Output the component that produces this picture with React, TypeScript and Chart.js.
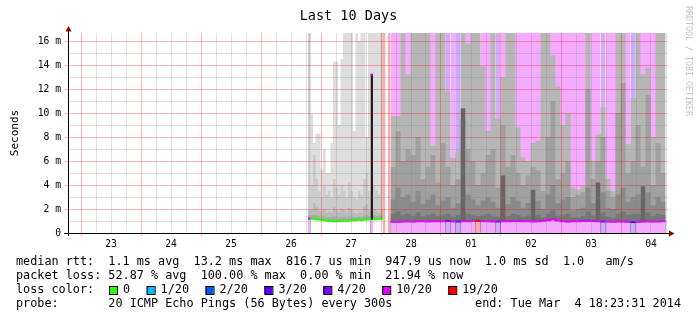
import { useEffect, useRef } from 'react';
import { Chart, registerables } from 'chart.js';

Chart.register(...registerables);

// ---------- axes (x in hours relative to Feb 23 00:00, y in ms) ----------
const X_MIN = -5.2;
const X_MAX = 234.8;
const X_GRID_STEP = 6;
const DAY_LABELS = ['23', '24', '25', '26', '27', '28', '01', '02', '03', '04'];
const Y_MAX = 16.667;
const Y_TICKS = [0, 1, 2, 3, 4, 5, 6, 7, 8, 9, 10, 11, 12, 13, 14, 15, 16];
const Y_LABELS = ['0', '', '2 m', '', '4 m', '', '6 m', '', '8 m', '', '10 m', '', '12 m', '', '14 m', '', '16 m'];
const FULL = 17; // beyond the top of the graph

// ---------- loss colours ----------
const LOSS_LEVELS = [0, 1, 2, 3, 4, 10, 19];
const LOSS_LABELS = ['0', '1/20', '2/20', '3/20', '4/20', '10/20', '19/20'];
const LOSS_COLORS = ['#26ff00', '#00b8ff', '#0059ff', '#5e00ff', '#7e00ff', '#dd00ff', '#ff0000'];
const LOSS_BG = ['#ffffff', '#aae9ff', '#aac8ff', '#c9aaff', '#d4aaff', '#f4aaff', '#ffaaaa'];

// ---------- segment A: Feb 26 evening -> Feb 28 (1 h steps) ----------
const A_START = 90.8;
const A_STEP = 1;
const SMOKE_A1 = [17, 9.9, 7.5, 8.3, 8.3, 5.3, 7.0, 5.0, 5.0, 7.5, 14.3, 14.3, 9.0, 14.5, 17, 17, 17, 17, 8.5, 17, 16.0, 17, 17, 8.0, 17, 17, 17, 17, 17, 17, null, null, null];
const SMOKE_A2 = [17, 4.0, 6.5, 4.5, 3.5, 3.0, 4.0, 3.2, 3.5, 3.0, 4.5, 3.8, 3.2, 4.0, 3.5, 3.0, 4.2, 3.5, 3.0, 2.8, 3.5, 3.2, 4.5, 5.0, 3.5, 3.8, 4.0, 3.5, 3.2, 17, null, null, null];
const SMOKE_A3 = [2.0, 2.0, 2.5, 2.2, 1.9, 1.8, 2.0, 1.7, 1.8, 1.7, 2.2, 1.9, 1.8, 2.0, 1.9, 1.7, 2.1, 1.9, 1.7, 1.6, 1.8, 1.7, 2.2, 2.4, 1.9, 2.0, 2.0, 1.8, 1.7, 2.0, null, null, null];
const SMOKE_A4 = [1.5, 1.45, 1.5, 1.45, 1.4, 1.35, 1.4, 1.3, 1.3, 1.3, 1.4, 1.35, 1.3, 1.35, 1.35, 1.3, 1.4, 1.35, 1.3, 1.3, 1.35, 1.35, 1.45, 1.5, 1.4, 1.4, 1.45, 1.4, 1.4, 1.45, null, null, null];
const MEDIAN_A = [1.2, 1.2, 1.18, 1.15, 1.12, 1.1, 1.08, 1.05, 1.02, 1.0, 0.98, 0.98, 1.0, 1.02, 1.05, 1.02, 1.05, 1.08, 1.06, 1.08, 1.1, 1.08, 1.12, 1.12, 1.15, 13.2, 1.15, 1.18, 1.18, 1.2, null, null, null];
const MIN_A = [1.14, 1.14, 1.12, 1.09, 1.06, 1.04, 1.02, 0.99, 0.96, 0.94, 0.92, 0.92, 0.94, 0.96, 0.99, 0.96, 0.99, 1.02, 1.0, 1.02, 1.04, 1.02, 1.06, 1.06, 1.09, 1.1, 1.09, 1.12, 1.12, 1.14, null, null, null];
const LOSS_A = [10, 0, 0, 0, 0, 0, 0, 0, 0, 0, 0, 0, 0, 0, 0, 0, 0, 0, 0, 0, 0, 0, 0, 0, 0, 10, 0, 0, 0, 0, 19, null, 19];

// ---------- segment B: Feb 28 -> Mar 4 (2 h steps) ----------
const B_START = 123.8;
const B_STEP = 2;
const SMOKE_B1 = [
  9.75, 9.75, 17, 13.2, 17, 17, 17, 17, 7.3, 17, 17,
  11.8, 6.25, 6.8, 17, 15.8, 17, 17, 13.9, 8.5, 17, 9.5,
  13.0, 17, 17, 8.8, 6.3, 6.0, 7.5, 7.7, 17, 17, 14.8,
  12.2, 9.0, 10.0, 3.8, 3.6, 3.9, 17, 6.0, 8.2, 10.5, 4.5,
  3.5, 17, 17, 7.4, 11.25, 17, 13.2, 13.75, 8.0, 17, 17,
];
const SMOKE_B2 = [
  5.5, 8.5, 6.0, 7.0, 6.5, 8.0, 4.5, 5.5, 6.5, 4.2, 7.5,
  5.5, 4.0, 4.5, 9.5, 7.0, 6.0, 4.0, 5.0, 6.5, 7.0, 3.8,
  9.0, 5.5, 6.5, 5.0, 4.0, 4.8, 5.5, 5.2, 3.5, 8.0, 11.0,
  4.5, 5.0, 6.0, 3.0, 3.2, 3.4, 12.0, 4.5, 6.0, 8.0, 3.5,
  3.0, 10.0, 12.5, 5.0, 6.0, 9.0, 5.5, 11.5, 4.0, 7.5, 5.0,
];
const SMOKE_B3 = [
  2.8, 3.8, 3.0, 3.2, 2.6, 3.5, 2.4, 2.8, 3.2, 2.3, 2.7,
  3.0, 2.1, 2.5, 3.8, 3.2, 2.8, 2.3, 2.7, 3.0, 2.6, 2.1,
  3.4, 2.4, 3.0, 2.7, 2.1, 2.5, 2.8, 2.7, 2.0, 3.2, 4.0,
  2.5, 2.8, 3.0, 1.9, 2.0, 2.1, 3.8, 2.5, 2.8, 3.4, 2.1,
  2.0, 3.2, 3.8, 2.6, 3.0, 3.2, 2.8, 3.4, 2.3, 3.0, 2.6,
];
const SMOKE_B4 = [
  1.6, 1.8, 1.5, 1.6, 1.45, 1.7, 1.4, 1.5, 1.6, 1.4, 1.5,
  1.6, 1.35, 1.5, 1.8, 1.6, 1.5, 1.4, 1.5, 1.6, 1.45, 1.35,
  1.7, 1.4, 1.6, 1.5, 1.35, 1.45, 1.5, 1.5, 1.3, 1.6, 1.9,
  1.45, 1.5, 1.6, 1.3, 1.3, 1.4, 1.8, 1.45, 1.5, 1.7, 1.35,
  1.3, 1.6, 1.8, 1.5, 1.6, 1.6, 1.5, 1.7, 1.4, 1.6, 1.5,
];
const SMOKE_B_DARK = [
  null, null, null, null, null, null, null, null, null, null, null,
  null, null, null, 10.4, null, null, null, null, null, null, null,
  4.8, null, null, null, null, null, 3.6, null, null, null, null,
  null, null, null, null, null, null, null, null, 4.2, null, null,
  null, null, null, null, null, null, 3.9, null, null, null, null,
];
const MEDIAN_B = [
  0.93, 0.93, 0.95, 0.96, 0.95, 0.97, 0.98, 0.96, 0.97, 0.98, 0.97,
  0.99, 0.96, 0.95, 0.97, 0.98, 0.99, 1.0, 0.98, 0.97, 0.96, 0.95,
  0.97, 0.98, 0.99, 1.0, 0.98, 0.97, 0.96, 0.98, 1.02, 1.06, 1.15,
  1.05, 0.97, 0.95, 0.97, 0.98, 1.0, 1.02, 1.0, 0.98, 0.96, 0.95,
  0.94, 0.96, 0.95, 0.94, 0.92, 0.93, 0.95, 0.96, 0.95, 0.96, 0.97,
];
const MIN_B = [
  0.88, 0.88, 0.9, 0.91, 0.9, 0.92, 0.93, 0.91, 0.92, 0.93, 0.92,
  0.94, 0.91, 0.9, 0.92, 0.93, 0.94, 0.95, 0.93, 0.92, 0.91, 0.9,
  0.92, 0.93, 0.94, 0.95, 0.93, 0.92, 0.91, 0.93, 0.97, 1.01, 1.1,
  1.0, 0.92, 0.9, 0.92, 0.93, 0.95, 0.97, 0.95, 0.93, 0.91, 0.9,
  0.89, 0.91, 0.9, 0.89, 0.87, 0.88, 0.9, 0.91, 0.9, 0.91, 0.92,
];
const LOSS_B = [
  10, 10, 10, 10, 10, 10, 10, 10, 10, 10, 10,
  4, 10, 3, 10, 10, 10, 19, 10, 10, 10, 4,
  10, 10, 10, 10, 10, 10, 10, 10, 10, 10, 10,
  10, 10, 10, 10, 10, 10, 10, 10, 10, 4, 10,
  10, 10, 10, 10, 3, 10, 10, 10, 10, 10, 10,
];

// ---------- legend texts ----------
const TITLE = 'Last 10 Days';
const Y_TITLE = 'Seconds';
const RTT_STATS = ['1.1 ms avg', '13.2 ms max', '816.7 us min', '947.9 us now', '1.0 ms sd', '1.0   am/s'];
const LOSS_STATS = ['52.87 % avg', '100.00 % max', '0.00 % min', '21.94 % now'];
const PROBE_TEXT = '20 ICMP Echo Pings (56 Bytes) every 300s';
const END_TEXT = 'end: Tue Mar  4 18:23:31 2014';
const WATERMARK = 'RRDTOOL / TOBI OETIKER';

const MONO = '"DejaVu Sans Mono", monospace';
const MGRID = 'rgba(255,0,0,0.28)';
const GRID = 'rgba(130,130,130,0.24)';

const idx = (l: number) => LOSS_LEVELS.indexOf(l);

function steps(start: number, step: number, values: (number | null)[]) {
  const pts: { x: number; y: number | null; k: number }[] = [];
  values.forEach((v, k) => {
    const x0 = start + k * step;
    if (v == null) {
      pts.push({ x: x0, y: null, k });
      return;
    }
    pts.push({ x: x0, y: v, k }, { x: x0 + step, y: v, k });
  });
  return pts;
}

function stepIndex(ctx: any) {
  const ds = ctx.chart.data.datasets[ctx.datasetIndex];
  return ds.data[ctx.p0DataIndex].k as number;
}

function area(label: string, data: any[], color: string, order: number, extra: any = {}) {
  return {
    label,
    data,
    fill: 'origin',
    backgroundColor: color,
    borderColor: 'rgba(0,0,0,0)',
    borderWidth: 0,
    pointRadius: 0,
    spanGaps: false,
    order,
    ...extra,
  };
}

function lossBgSegment(loss: (number | null)[]) {
  return {
    backgroundColor: (ctx: any) => {
      const l = loss[stepIndex(ctx)];
      return l == null ? 'rgba(0,0,0,0)' : LOSS_BG[idx(l)];
    },
  };
}

function medianLine(label: string, data: any[], loss: (number | null)[], order: number) {
  return {
    label,
    data,
    fill: false,
    borderWidth: 2,
    borderColor: LOSS_COLORS[0],
    borderJoinStyle: 'miter',
    borderCapStyle: 'butt',
    pointRadius: 0,
    spanGaps: false,
    order,
    segment: {
      borderColor: (ctx: any) => {
        const ds = ctx.chart.data.datasets[ctx.datasetIndex];
        const a = ds.data[ctx.p0DataIndex];
        const b = ds.data[ctx.p1DataIndex];
        if (Math.abs(b.y - a.y) > 3) return 'rgba(0,0,0,0)';
        const l = loss[a.k];
        return l == null ? 'rgba(0,0,0,0)' : LOSS_COLORS[idx(l)];
      },
    },
  };
}

const decor = {
  id: 'rrdDecor',
  afterDraw(chart: any) {
    const { ctx, chartArea: a } = chart;
    ctx.save();
    // axes
    ctx.strokeStyle = '#000';
    ctx.lineWidth = 1;
    ctx.beginPath();
    ctx.moveTo(a.left - 4, a.bottom + 0.5);
    ctx.lineTo(a.right + 2, a.bottom + 0.5);
    ctx.moveTo(a.left + 0.5, a.bottom + 3);
    ctx.lineTo(a.left + 0.5, a.top - 2);
    ctx.stroke();
    ctx.fillStyle = '#8b0000';
    ctx.beginPath();
    ctx.moveTo(a.left + 0.5, a.top - 7);
    ctx.lineTo(a.left - 2.5, a.top - 1.5);
    ctx.lineTo(a.left + 3.5, a.top - 1.5);
    ctx.closePath();
    ctx.fill();
    ctx.beginPath();
    ctx.moveTo(a.right + 6.5, a.bottom + 0.5);
    ctx.lineTo(a.right + 1, a.bottom - 2.5);
    ctx.lineTo(a.right + 1, a.bottom + 3.5);
    ctx.closePath();
    ctx.fill();

    // title
    ctx.fillStyle = '#000';
    ctx.font = `13.5px ${MONO}`;
    ctx.textAlign = 'center';
    ctx.textBaseline = 'alphabetic';
    ctx.fillText(TITLE, chart.width / 2, 20);

    // watermark
    ctx.save();
    ctx.translate(688, 6);
    ctx.rotate(Math.PI / 2);
    ctx.font = `8.3px ${MONO}`;
    ctx.fillStyle = '#c4c4c4';
    ctx.textAlign = 'left';
    ctx.textBaseline = 'middle';
    ctx.fillText(WATERMARK, 0, 0);
    ctx.restore();

    // legend
    ctx.font = `11.8px ${MONO}`;
    ctx.fillStyle = '#000';
    ctx.textAlign = 'left';
    ctx.textBaseline = 'alphabetic';
    const x0 = 16;
    ctx.fillText('median rtt:  ' + RTT_STATS.join('  '), x0, 265);
    ctx.fillText('packet loss: ' + LOSS_STATS.join('  '), x0, 279);
    ctx.fillText('loss color:', x0, 293);
    let x = 109;
    LOSS_LABELS.forEach((lab, i) => {
      ctx.fillStyle = LOSS_COLORS[i];
      ctx.fillRect(x, 286, 8, 8);
      ctx.strokeStyle = '#000';
      ctx.strokeRect(x + 0.5, 286.5, 8, 8);
      ctx.fillStyle = '#000';
      ctx.fillText(lab, x + 14, 293);
      x = x + 14 + ctx.measureText(lab).width + 16.5;
    });
    ctx.fillText('probe:       ' + PROBE_TEXT, x0, 307);
    ctx.textAlign = 'right';
    ctx.fillText(END_TEXT, 681, 307);
    ctx.restore();
  },
};

export default function App() {
  const ref = useRef<HTMLCanvasElement | null>(null);

  useEffect(() => {
    document.body.style.margin = '0';
    const canvas = ref.current;
    if (!canvas) return;

    const bgA = LOSS_A.map((l) => (l ? FULL : null));
    const bgB = LOSS_B.map((l) => (l ? FULL : null));
    const spikeA = MEDIAN_A.map((v) => (v != null && v > 5 ? v : null));

    const datasets: any[] = [
      area('loss bg A', steps(A_START, A_STEP, bgA), '#fff', 100, { segment: lossBgSegment(LOSS_A) }),
      area('loss bg B', steps(B_START, B_STEP, bgB), '#fff', 100, { segment: lossBgSegment(LOSS_B) }),
      area('smoke A1', steps(A_START, A_STEP, SMOKE_A1), '#dddddd', 90),
      area('smoke B1', steps(B_START, B_STEP, SMOKE_B1), '#b6b6b6', 90),
      area('smoke A2', steps(A_START, A_STEP, SMOKE_A2), '#cbcbcb', 80),
      area('smoke B2', steps(B_START, B_STEP, SMOKE_B2), '#a0a0a0', 80),
      area('smoke A3', steps(A_START, A_STEP, SMOKE_A3), '#bababa', 70),
      area('smoke B3', steps(B_START, B_STEP, SMOKE_B3), '#8a8a8a', 70),
      area('smoke A4', steps(A_START, A_STEP, SMOKE_A4), '#a8a8a8', 60),
      area('smoke B4', steps(B_START, B_STEP, SMOKE_B4), '#767676', 60),
      area('smoke B dark', steps(B_START, B_STEP, SMOKE_B_DARK), '#666666', 55),
      area('spike A', steps(A_START, A_STEP, spikeA), '#1e1e1e', 50),
      area('min A', steps(A_START, A_STEP, MIN_A), '#fff', 40, { segment: lossBgSegment(LOSS_A) }),
      area('min B', steps(B_START, B_STEP, MIN_B), '#fff', 40, { segment: lossBgSegment(LOSS_B) }),
      medianLine('median A', steps(A_START, A_STEP, MEDIAN_A), LOSS_A, 30),
      medianLine('median B', steps(B_START, B_STEP, MEDIAN_B), LOSS_B, 30),
    ];

    const xTicks: number[] = [];
    for (let h = 0; h <= X_MAX; h += X_GRID_STEP) xTicks.push(h);

    const chart = new Chart(canvas, {
      type: 'line',
      data: { datasets },
      plugins: [decor],
      options: {
        animation: false,
        responsive: false,
        devicePixelRatio: 1,
        events: [],
        layout: { padding: { left: 8, right: 29, top: 33, bottom: 68 } },
        plugins: {
          legend: { display: false },
          tooltip: { enabled: false },
          title: { display: false },
        },
        scales: {
          x: {
            type: 'linear',
            min: X_MIN,
            max: X_MAX,
            afterFit: (s: any) => {
              s.height = 20;
            },
            afterBuildTicks: (s: any) => {
              s.ticks = xTicks.map((v) => ({ value: v }));
            },
            border: { display: false },
            grid: {
              z: 1,
              lineWidth: 1,
              color: (c: any) => (c.tick && c.tick.value % 24 === 0 ? MGRID : GRID),
              tickColor: (c: any) => (c.tick && c.tick.value % 24 === 0 ? MGRID : 'rgba(0,0,0,0)'),
              tickLength: 3,
            },
            ticks: {
              autoSkip: false,
              maxRotation: 0,
              padding: 3,
              color: '#000',
              font: { family: MONO, size: 9.7 },
              callback: (v: any) => {
                const h = Number(v);
                return h % 24 === 12 ? DAY_LABELS[Math.floor(h / 24)] : '';
              },
            },
          },
          y: {
            type: 'linear',
            min: 0,
            max: Y_MAX,
            afterFit: (s: any) => {
              s.width = 60;
            },
            afterBuildTicks: (s: any) => {
              s.ticks = Y_TICKS.map((v) => ({ value: v }));
            },
            border: { display: false },
            grid: {
              z: 1,
              lineWidth: 1,
              color: (c: any) => {
                const v = c.tick ? c.tick.value : 0;
                if (v === 0) return 'rgba(0,0,0,0)';
                return v % 2 === 0 ? MGRID : GRID;
              },
              tickColor: (c: any) => {
                const v = c.tick ? c.tick.value : 0;
                if (v === 0) return '#000';
                return v % 2 === 0 ? MGRID : 'rgba(0,0,0,0)';
              },
              tickLength: 4,
            },
            ticks: {
              autoSkip: false,
              padding: 3,
              color: '#000',
              font: { family: MONO, size: 9.7 },
              callback: (v: any) => {
                const i = Y_TICKS.indexOf(Number(v));
                return i >= 0 ? Y_LABELS[i] : '';
              },
            },
            title: {
              display: true,
              text: Y_TITLE,
              color: '#000',
              font: { family: MONO, size: 11 },
              padding: { top: 0.4, bottom: 0 },
            },
          },
        },
      } as any,
    });

    return () => chart.destroy();
  }, []);

  return (
    <div style={{ width: 697, height: 321, background: '#fff' }}>
      <canvas ref={ref} width={697} height={321} style={{ display: 'block' }} />
    </div>
  );
}
